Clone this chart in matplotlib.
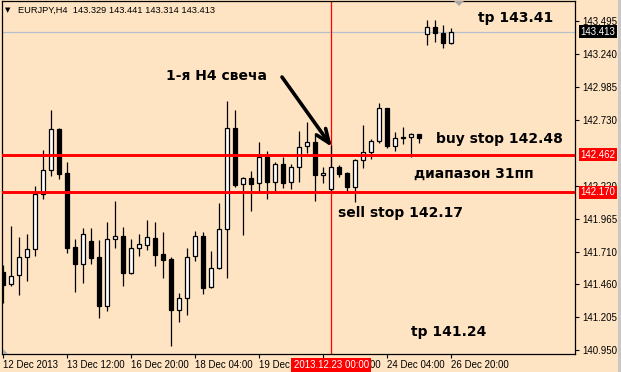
import matplotlib
matplotlib.use("Agg")
import matplotlib.pyplot as plt
from matplotlib.patches import Polygon

plt.rcParams['font.family'] = ['Liberation Sans', 'DejaVu Sans']

# ---- data (EURJPY H4) ----
opens  = [141.554, 141.461, 141.531, 141.670, 141.732, 142.157, 142.343, 142.660, 142.319, 141.747,
          141.616, 141.794, 141.670, 141.291, 141.809, 141.832, 141.546, 141.739, 141.763, 141.817,
          141.693, 141.654, 141.260, 141.353, 141.678, 141.832, 141.438, 141.585, 141.886, 142.667,
          142.234, 142.281, 142.242, 142.443, 142.250, 142.389, 142.250, 142.366, 142.528, 142.559,
          142.304, 142.196, 142.366, 142.319, 142.211, 142.420, 142.482, 142.567, 142.822, 142.528,
          142.596, 142.598, 142.621, 143.395, 143.449, 143.402, 143.329]
highs  = [141.608, 141.910, 141.825, 141.848, 142.219, 142.497, 142.807, 142.667, 142.405, 141.809,
          141.894, 141.894, 141.801, 141.941, 142.103, 141.902, 141.809, 141.848, 141.956, 141.941,
          141.863, 141.670, 141.391, 141.739, 141.871, 141.863, 141.716, 142.087, 142.876, 142.807,
          142.289, 142.335, 142.559, 142.490, 142.405, 142.443, 142.389, 142.644, 142.714, 142.629,
          142.366, 142.536, 142.381, 142.327, 142.428, 142.691, 142.582, 142.861, 142.822, 142.637,
          142.675, 142.629, 142.621, 143.503, 143.503, 143.464, 143.441]
lows   = [141.314, 141.446, 141.376, 141.484, 141.678, 142.118, 142.296, 142.273, 141.701, 141.399,
          141.469, 141.616, 141.198, 141.252, 141.739, 141.446, 141.538, 141.678, 141.724, 141.600,
          141.507, 140.981, 141.167, 141.221, 141.639, 141.384, 141.430, 141.580, 141.507, 142.211,
          141.840, 142.026, 142.165, 142.118, 142.180, 142.203, 142.196, 142.250, 142.474, 142.103,
          142.242, 142.165, 142.289, 142.173, 142.095, 142.358, 142.428, 142.551, 142.513, 142.490,
          142.544, 142.443, 142.551, 143.309, 143.333, 143.286, 143.314]
closes = [141.453, 141.523, 141.670, 141.732, 142.157, 142.343, 142.660, 142.312, 141.739, 141.616,
          141.848, 141.662, 141.291, 141.809, 141.832, 141.546, 141.739, 141.770, 141.825, 141.685,
          141.647, 141.260, 141.353, 141.670, 141.832, 141.430, 141.585, 141.886, 142.667, 142.227,
          142.281, 142.234, 142.443, 142.250, 142.389, 142.242, 142.366, 142.521, 142.559, 142.304,
          142.319, 142.366, 142.312, 142.211, 142.420, 142.482, 142.567, 142.822, 142.528, 142.590,
          142.592, 142.621, 142.590, 143.449, 143.402, 143.325, 143.413]

price_ticks = [143.495, 143.240, 142.985, 142.730, 142.220, 141.965, 141.710, 141.460, 141.205, 140.950]
time_tick_idx = [0, 8, 16, 24, 32, 40, 48, 56]
time_tick_labels = ['12 Dec 2013', '13 Dec 12:00', '16 Dec 20:00', '18 Dec 04:00',
                    '19 Dec 12:00', '20 Dec 20:00', '24 Dec 04:00', '26 Dec 20:00']

buy_stop = 142.462
sell_stop = 142.170
bid = 143.413
marker_idx = 41
marker_label = '2013.12.23 00:00'
header = 'EURJPY,H4  143.329 143.441 143.314 143.413'

# ---- figure ----
W, H = 621, 372
BG = '#FFE4C4'
fig = plt.figure(figsize=(W / 100, H / 100), dpi=100, facecolor=BG)
ax = fig.add_axes([2 / W, (H - 354) / H, (575 - 2) / W, (354 - 1) / H], facecolor=BG)

def fp(x, y):
    return (x / W, 1 - y / H)

n = len(opens)
xs = list(range(n))

# wicks
ax.vlines(xs, lows, highs, color='black', lw=0.9, zorder=2)
# bodies
for i in xs:
    o, c = opens[i], closes[i]
    bottom = min(o, c)
    h = max(abs(c - o), 0.0005)
    fc = 'white' if c >= o else 'black'
    ax.bar(i, h, bottom=bottom, width=0.5, color=fc, edgecolor='black', lw=0.9, zorder=3)

# lines
ax.axhline(buy_stop, color='#FF0000', lw=2.1, zorder=4)
ax.axhline(sell_stop, color='#FF0000', lw=2.1, zorder=4)
ax.axhline(bid, color='#B4C0CC', lw=0.9, zorder=1)
ax.axvline(marker_idx, color='#FF0000', lw=0.9, zorder=1)

ax.set_xlim(-0.16, 71.46)
ax.set_ylim(140.9196, 143.650)

for s in ax.spines.values():
    s.set_color('black')
    s.set_linewidth(0.9)

# y axis on right
ax.yaxis.tick_right()
ax.set_yticks(price_ticks)
ax.set_yticklabels([f'{p:.3f}' for p in price_ticks])
ax.tick_params(axis='y', direction='out', length=3, width=0.8, pad=2, labelsize=7,
               colors='black', right=True, left=False)

# x axis
ax.set_xticks(time_tick_idx)
ax.set_xticklabels(time_tick_labels)
ax.tick_params(axis='x', direction='out', length=3, width=0.8, pad=1.5, labelsize=7, colors='black')
for lbl in ax.get_xticklabels():
    lbl.set_ha('left')

# price boxes on the right
for price, bg in [(bid, 'black'), (buy_stop, '#FF0000'), (sell_stop, '#FF0000')]:
    ax.annotate(f'{price:.3f}', xy=(1.0, price), xycoords=('axes fraction', 'data'),
                xytext=(4, 0), textcoords='offset points', ha='left', va='center',
                fontsize=7, color='white', annotation_clip=False, zorder=6,
                bbox=dict(boxstyle='square,pad=0.18', fc=bg, ec='none'))

# time marker box
ax.annotate(marker_label, xy=(marker_idx, 0), xycoords=('data', 'axes fraction'),
            xytext=(0, -8), textcoords='offset points', ha='center', va='center',
            fontsize=7, color='white', annotation_clip=False, zorder=6,
            bbox=dict(boxstyle='square,pad=0.25', fc='#FF0000', ec='none'))

# header
fig.text(*fp(5, 10), '\u25BC', fontsize=5, family='DejaVu Sans', va='center', ha='left')
fig.text(*fp(18, 10), header, fontsize=6.7, va='center', ha='left', color='black')

# annotations
bold = dict(family='DejaVu Sans', fontweight='bold', fontsize=10, color='black', va='center', ha='left')
fig.text(*fp(478, 18), 'tp 143.41', **bold)
fig.text(*fp(166, 76), '1-я H4 свеча', **bold)
fig.text(*fp(436, 139), 'buy stop 142.48', **bold)
fig.text(*fp(414, 174), 'диапазон 31пп', **bold)
fig.text(*fp(338, 213), 'sell stop 142.17', **bold)
fig.text(*fp(411, 332), 'tp 141.24', **bold)

ax.annotate('', xy=fp(332, 147), xytext=fp(282, 77), xycoords='figure fraction',
            textcoords='figure fraction',
            arrowprops=dict(arrowstyle='->,head_length=1.0,head_width=0.4', lw=2.6,
                            color='black', shrinkA=0, shrinkB=0))

# small markers
fig.patches.append(Polygon([fp(454, 1), fp(464, 1), fp(459, 6)], closed=True,
                           transform=fig.transFigure, fc='#A8A8A8', ec='none'))
fig.patches.append(Polygon([fp(3, 349), fp(3, 354), fp(8, 354)], closed=True,
                           transform=fig.transFigure, fc='#A8A8A8', ec='none'))
fig.patches.append(Polygon([fp(618, 0), fp(621, 0), fp(621, 372), fp(618, 372)], closed=True,
                           transform=fig.transFigure, fc='#C8C8C8', ec='none'))

fig.savefig('out.png', dpi=100, facecolor=BG)
